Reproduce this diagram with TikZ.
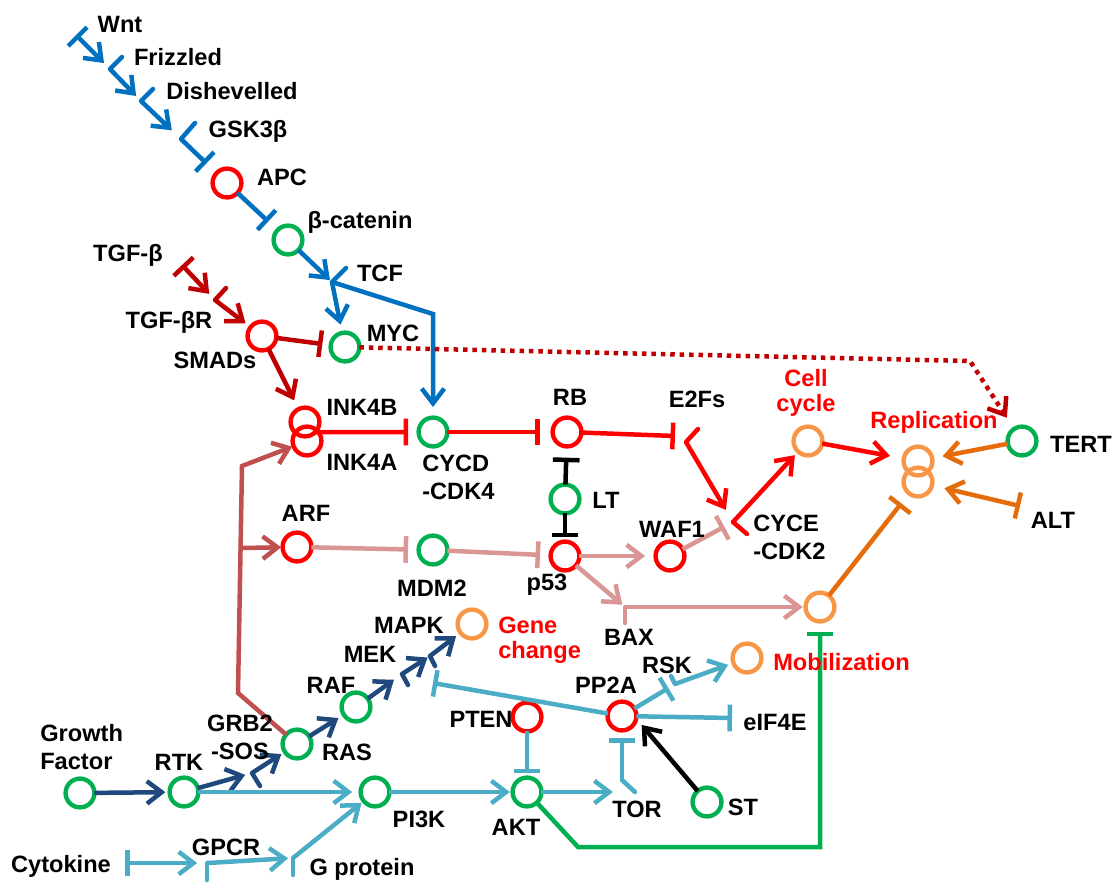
\documentclass[tikz,border=0pt]{standalone}
\usepackage{fontspec}
\setmainfont{Liberation Sans}
\usetikzlibrary{arrows.meta,calc}

\definecolor{wntblue}{RGB}{0,112,192}
\definecolor{tgfred}{RGB}{192,0,0}
\definecolor{arfbrown}{RGB}{192,80,77}
\definecolor{p53pink}{RGB}{217,150,148}
\definecolor{rasnavy}{RGB}{31,73,125}
\definecolor{aktcyan}{RGB}{75,172,198}
\definecolor{replorange}{RGB}{228,108,10}
\definecolor{fateorange}{RGB}{247,150,70}
\definecolor{molgreen}{RGB}{0,176,80}
\definecolor{molred}{RGB}{255,0,0}

\tikzset{
	mol/.style={circle, draw, line width=3.1pt, minimum size=0.72cm, inner sep=0pt, outer sep=0pt},
	grn/.style={mol, draw=molgreen},
	rd/.style={mol, draw=molred},
	org/.style={mol, draw=fateorange},
	lbl/.style={font=\bfseries\fontsize{16.8}{19.8}\selectfont, inner sep=0pt, anchor=base},
	lbl2/.style={lbl, align=left, anchor=west},
	fate/.style={lbl, text=molred},
	fate2/.style={fate, font=\bfseries\fontsize{16.8}{18}\selectfont},
	wire/.style={line width=3.2pt},
	lpiece/.style={wire, line cap=round},
	act/.style={wire, -{Straight Barb[length=10.5pt,width=16pt]}},
	inh/.style={wire, -{Bar[width=19pt]}},
	binh/.style={wire, {Bar[width=19pt]}-{Straight Barb[length=10.5pt,width=16pt]}},
	mycdots/.style={draw=tgfred, dash pattern=on 3.2pt off 3.5pt},
}

\begin{document}
\begin{tikzpicture}[x=0.025cm, y=-0.025cm]
			\useasboundingbox (0,0) rectangle (1118,884);
			
			%%%%% START %%%%%
			
			% molecules
			\node[rd]  (apc)     at (227,183) {};
			\node[grn] (bcat)    at (288,240) {};
			\node[rd]  (smads)   at (262,336) {};
			\node[grn] (myc)     at (345,347) {};
			\node[rd]  (ink4b)   at (305,422) {};
			\node[rd]  (ink4a)   at (307,441) {};
			\node[grn] (cycd)    at (433,432) {};
			\node[rd]  (rb)      at (567,432) {};
			\node[grn] (lt)      at (565,499) {};
			\node[rd]  (arf)     at (297,547) {};
			\node[grn] (mdm2)    at (433,550) {};
			\node[rd]  (p53)     at (565,556) {};
			\node[rd]  (waf1)    at (670,556) {};
			\node[org] (cellcyc) at (808,441) {};
			\node[org] (repl1)   at (918,461) {};
			\node[org] (repl2)   at (918,482) {};
			\node[grn] (tert)    at (1022,441) {};
			\node[org] (apop)    at (820,607) {};
			\node[org] (gene)    at (472,624) {};
			\node[org] (mobil)   at (747,658) {};
			\node[grn] (gf)      at (80,793) {};
			\node[grn] (rtk)     at (184,792) {};
			\node[grn] (ras)     at (297,744) {};
			\node[grn] (raf)     at (356,707) {};
			\node[grn] (pi3k)    at (375,792) {};
			\node[rd]  (pten)    at (527,717) {};
			\node[grn] (akt)     at (527,792) {};
			\node[rd]  (pp2a)    at (622,716) {};
			\node[grn] (st)      at (707,802) {};
			
			% junctions
			\coordinate (wnt) at (76,35);
			\coordinate (fz) at (110,69);
			\coordinate (dsh) at (141,101);
			\coordinate (gsk) at (181,139);
			\coordinate (tcf) at (332,282);
			\coordinate (tcfbend) at (433,314);
			\coordinate (tgfb) at (182,265);
			\coordinate (tgfbr) at (215,300);
			\coordinate (e2fbar) at (675,436);
			\coordinate (e2fs) at (686,442);
			\coordinate (cyce) at (733,522);
			\coordinate (mycbend) at (970,361);
			\coordinate (alt) at (1020,506);
			\coordinate (bax) at (625,607);
			\coordinate (arfbr) at (241,548);
			\coordinate (rasbend) at (238,693);
			\coordinate (inkbend) at (242,466);
			\coordinate (aktbend) at (578,847);
			\coordinate (grb) at (252,773);
			\coordinate (mek) at (402,674);
			\coordinate (mapk) at (430,656);
			\coordinate (cyto) at (125,863);
			\coordinate (gpcr) at (207,863);
			\coordinate (gprot) at (293,858);
			\coordinate (tor) at (622,780);
			\coordinate (rsk) at (675,684);
			\coordinate (mekbar) at (433,683);
			\coordinate (eifbar) at (732,718);
			
			\draw[lpiece, wntblue] (fz) -- ++(12,-12);
			\draw[lpiece, wntblue] (dsh) -- ++(12,-12);
			\draw[lpiece, wntblue] (gsk) -- ++(14,-16);
			\draw[lpiece, wntblue] (tcf) -- ++(14,-14);
			\draw[lpiece, tgfred] (tgfbr) -- ++(11,-12);
			\draw[lpiece, molred] (e2fs) -- ++(12,-13);
			\draw[lpiece, molred] (cyce) -- ++(14,12);
			\draw[lpiece, p53pink] (bax) -- ++(0,16);
			\draw[lpiece, rasnavy] (grb) -- ++(8,13);
			\draw[lpiece, rasnavy] (mek) -- ++(6,11);
			\draw[lpiece, rasnavy] (mapk) -- ++(5,10);
			\draw[lpiece, aktcyan] (gpcr) -- ++(0,17);
			\draw[lpiece, aktcyan] (gprot) -- ++(0,17);
			\draw[lpiece, aktcyan] (tor) -- ++(13,12);
			\draw[lpiece, aktcyan] (rsk) -- ++(-4,-8);
			
			% Wnt
			\draw[binh, wntblue, shorten >=6pt] (wnt) -- (fz);
			\draw[act, wntblue, shorten >=5pt] (fz) -- (dsh);
			\draw[act, wntblue, shorten >=9pt] (dsh) -- (gsk);
			\draw[inh, wntblue, shorten >=10pt] (gsk) -- (apc);
			\draw[inh, wntblue, shorten >=9pt] (apc) -- (bcat);
			\draw[act, wntblue, shorten >=2pt] (bcat) -- (tcf);
			\draw[act, wntblue, shorten >=6pt] (tcf) -- (myc);
			\draw[act, wntblue, shorten >=7.5pt] (tcf) -- (tcfbend) -- (cycd);
			
			% TGF-beta
			\draw[binh, tgfred, shorten >=6pt] (tgfb) -- (tgfbr);
			\draw[act, tgfred, shorten >=4.5pt] (tgfbr) -- (smads);
			\draw[inh, tgfred, shorten >=6pt] (smads) -- (myc);
			\draw[act, tgfred, shorten >=7pt] (smads) -- (ink4b);
			
			% RB
			\draw[inh, molred, shorten >=7.5pt] (ink4b.south east) -- (cycd);
			\draw[inh, molred, shorten >=9pt] (cycd) -- (rb);
			\draw[inh, molred] (rb) -- (e2fbar);
			\draw[act, molred, shorten >=10pt] (e2fs) -- (cyce);
			\draw[act, molred, shorten >=3.5pt] (cyce) -- (cellcyc);
			\draw[act, molred, shorten >=10pt] (cellcyc) -- (repl1);
			\draw[inh, black, shorten >=8pt] (lt) -- (rb);
			\draw[inh, black, shorten >=3pt] (lt) -- (p53);
			
			% p53
			\draw[act, arfbrown, shorten >=1pt] (ras) -- (rasbend) -- (inkbend) -- (ink4a);
			\draw[act, arfbrown, shorten >=1pt] (arfbr) -- (arf);
			\draw[inh, p53pink, shorten >=7.5pt] (arf) -- (mdm2);
			\draw[inh, p53pink, shorten >=7.5pt] (mdm2) -- (p53);
			\draw[act, p53pink, shorten >=7.5pt] (p53) -- (waf1);
			\draw[inh, p53pink, shorten >=7pt] (waf1) -- (cyce);
			\draw[act, p53pink, shorten >=2.5pt] (p53) -- (bax);
			\draw[act, p53pink, shorten >=2pt] (bax) -- (apop);
			
			% replication
			\draw[inh, replorange, shorten >=9pt] (apop) -- (repl2);
			\draw[act, replorange, shorten >=7.5pt] (tert) -- (repl1);
			\draw[binh, replorange, shorten >=9pt] (alt) -- (repl2);
			\draw[mycdots, act, shorten >=9.5pt] (myc) -- (mycbend) -- (tert);
			\draw[inh, molgreen, shorten >=7.5pt] (akt) -- (aktbend) -| (apop);
			
			% growth factor
			\draw[act, rasnavy, shorten >=3pt] (gf) -- (rtk);
			\draw[act, rasnavy, shorten >=5pt] (rtk) -- (grb);
			\draw[act, rasnavy, shorten >=3pt] (grb) -- (ras);
			\draw[act, rasnavy, shorten >=4.5pt] (ras) -- (raf);
			\draw[act, rasnavy, shorten >=7pt] (raf) -- (mek);
			\draw[act, rasnavy, shorten >=2pt] (mek) -- (mapk);
			\draw[act, rasnavy, shorten >=4pt] (mapk) -- (gene);
			
			% PI3K
			\draw[act, aktcyan, shorten >=6pt] (rtk) -- (pi3k);
			\draw[binh, aktcyan, shorten >=7pt] (cyto) -- (gpcr);
			\draw[act, aktcyan, shorten >=3.5pt] (gpcr) -- (gprot);
			\draw[act, aktcyan, shorten >=2pt] (gprot) -- (pi3k);
			\draw[act, aktcyan, shorten >=2pt] (pi3k) -- (akt);
			\draw[inh, aktcyan, shorten >=3pt] (pten) -- (akt);
			\draw[act, aktcyan, shorten >=6.5pt] (akt) -- (tor |- akt);
			\draw[inh, aktcyan, shorten >=5.5pt] (tor) -- (pp2a);
			\draw[inh, aktcyan] (pp2a) -- (mekbar);
			\draw[inh, aktcyan] (pp2a) -- (eifbar);
			\draw[inh, aktcyan, shorten >=5.5pt] (pp2a) -- (rsk);
			\draw[act, aktcyan, shorten >=4pt] (rsk) -- (mobil);
			\draw[act, black, shorten >=6pt] (st) -- (pp2a.-10);
			
			% labels
			\node[lbl] (twnt) at (120,32) {Wnt};
			\node[lbl] (tfz) at (178,65) {Frizzled};
			\node[lbl] (tdsh) at (232,99) {Dishevelled};
			\node[lbl] (tgsk) at (248,137) {GSK3β};
			\node[lbl] (tapc) at (282,185) {APC};
			\node[lbl] (tbcat) at (360,228) {β-catenin};
			\node[lbl] (ttcf) at (380,281) {TCF};
			\node[lbl] (ttgfb) at (128,261) {TGF-β};
			\node[lbl] (ttgfbr) at (169,328) {TGF-βR};
			\node[lbl] (tsmads) at (215,368) {SMADs};
			\node[lbl] (tmyc) at (393,341) {MYC};
			\node[lbl] (tink4b) at (362,415) {INK4B};
			\node[lbl] (tink4a) at (362,470) {INK4A};
			\node[lbl2] (tcycd) at (422,477) {CYCD\\-CDK4};
			\node[lbl] (trb) at (570,405) {RB};
			\node[lbl] (te2fs) at (697,407) {E2Fs};
			\node[lbl] (tlt) at (606,508) {LT};
			\node[lbl] (twaf1) at (672,537) {WAF1};
			\node[lbl2] (tcyce) at (753,537) {CYCE\\-CDK2};
			\node[fate2, align=center, anchor=center] (tcell) at (806,393) {Cell\\cycle};
			\node[fate] (trepl) at (934,428) {Replication};
			\node[lbl] (ttert) at (1081,452) {TERT};
			\node[lbl] (talt) at (1053,528) {ALT};
			\node[lbl] (tarf) at (306,521) {ARF};
			\node[lbl] (tmdm2) at (432,596) {MDM2};
			\node[lbl] (tp53) at (547,590) {p53};
			\node[lbl] (tbax) at (629,645) {BAX};
			\node[lbl] (tmapk) at (409,633) {MAPK};
			\node[lbl] (tmek) at (370,662) {MEK};
			\node[lbl] (traf) at (331,693) {RAF};
			\node[lbl, align=center, anchor=center] (tgrb) at (240,737) {GRB2\\-SOS};
			\node[lbl] (tras) at (347,760) {RAS};
			\node[lbl2] (tgf) at (40,747) {Growth\\Factor};
			\node[lbl] (trtk) at (179,770) {RTK};
			\node[lbl] (tpi3k) at (419,827) {PI3K};
			\node[lbl] (tgpcr) at (226,855) {GPCR};
			\node[lbl] (tcyto) at (61,872) {Cytokine};
			\node[lbl] (tgprot) at (362,875) {G protein};
			\node[fate2, align=left, anchor=west] (tgene) at (498,640) {Gene\\change};
			\node[lbl] (trsk) at (667,673) {RSK};
			\node[lbl] (tpp2a) at (606,693) {PP2A};
			\node[fate, anchor=base west] (tmobil) at (773,670) {Mobilization};
			\node[lbl] (tpten) at (481,727) {PTEN};
			\node[lbl] (teif) at (775,730) {eIF4E};
			\node[lbl] (takt) at (516,835) {AKT};
			\node[lbl] (ttor) at (637,817) {TOR};
			\node[lbl] (tst) at (743,815) {ST};
			
			%%%%% END %%%%%
\end{tikzpicture}
\end{document}
